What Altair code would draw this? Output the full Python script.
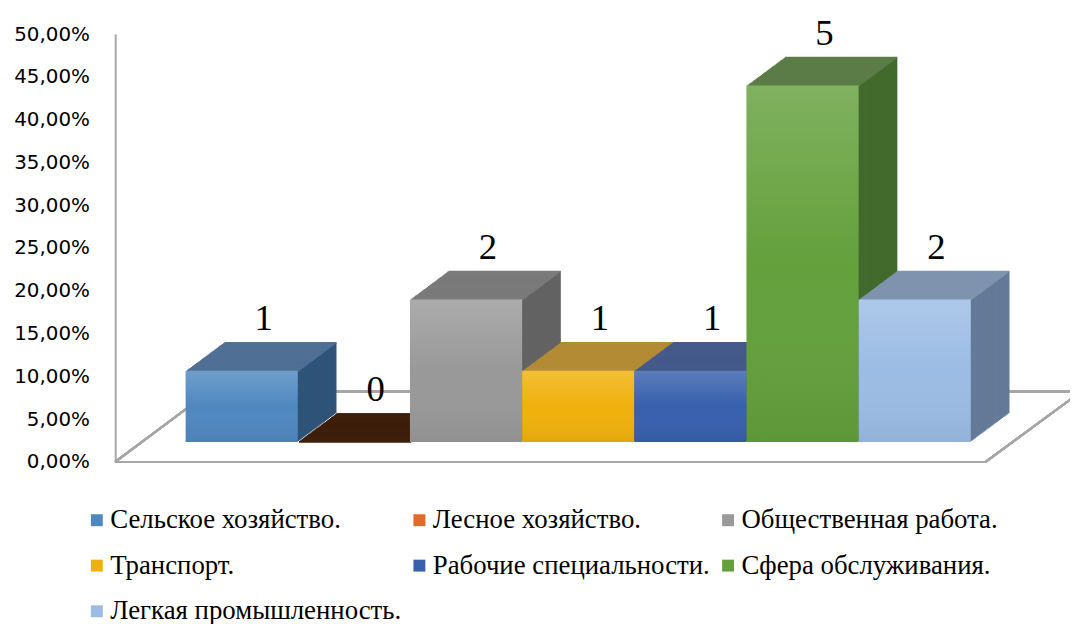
import altair as alt
import pandas as pd

# ---- data ----
categories = ["Сельское хозяйство.", "Лесное хозяйство.", "Общественная работа.",
              "Транспорт.", "Рабочие специальности.", "Сфера обслуживания.",
              "Легкая промышленность."]
counts = [1, 0, 2, 1, 1, 5, 2]
shares = [0.0833, 0.0, 0.1667, 0.0833, 0.0833, 0.4167, 0.1667]

# ---- styles ----
front_colors = ["#4f88c0", "#e2692a", "#999999", "#f0b10c", "#3860ad", "#64a03c", "#9bbce4"]
top_colors = ["#4f7094", "#3d1f0b", "#7a7a7a", "#b38b35", "#445a8a", "#5b7c47", "#7f93ae"]
side_colors = ["#2f5478", "#3d1f0b", "#636363", "#8c6a10", "#2a4275", "#426a2c", "#647a98"]

df = pd.DataFrame({"cat": categories, "count": counts, "share": shares,
                   "top": top_colors, "side": side_colors})

W, H = 933, 431
BASE = -20          # front face baseline lifted above the floor front edge
DEPTH_X, DEPTH_Y = 39, 29
N = 30
SX, SY = DEPTH_X / N, DEPTH_Y / N

xenc = alt.X("cat:N", sort=categories, axis=None,
             scale=alt.Scale(paddingInner=0, paddingOuter=0.628))
yenc = alt.Y("share:Q", scale=alt.Scale(domain=[0, 0.5]),
             axis=alt.Axis(values=[i * 0.05 for i in range(11)],
                           labelExpr="replace(format(datum.value, '.2%'), '.', ',')",
                           labelFont="DejaVu Sans", labelFontSize=20, labelColor="#000000",
                           labelPadding=26, ticks=False, grid=False,
                           domainColor="#a6a6a6", domainWidth=2, title=None))

base = alt.Chart(df)

floor_col = "#a6a6a6"
floor = [
    base.mark_rule(color=floor_col, strokeWidth=2).encode(
        x=alt.value(0), x2=alt.value(877), y=alt.value(H), y2=alt.value(H)),
    base.mark_rule(color=floor_col, strokeWidth=2).encode(
        x=alt.value(0), x2=alt.value(95), y=alt.value(H), y2=alt.value(H - 71)),
    base.mark_rule(color=floor_col, strokeWidth=2).encode(
        x=alt.value(95), x2=alt.value(980), y=alt.value(H - 71), y2=alt.value(H - 71)),
    base.mark_rule(color=floor_col, strokeWidth=2).encode(
        x=alt.value(877), x2=alt.value(980), y=alt.value(H), y2=alt.value(H - 76)),
]

layers = list(floor)
for i in range(N, 0, -1):
    ox = i * SX
    oy = BASE - i * SY
    # body of the extruded copy (side colour), starting just below its top strip
    layers.append(base.mark_bar(xOffset=ox, yOffset=oy + SY, y2Offset=oy).encode(
        x=xenc, y=yenc, y2=alt.datum(0),
        color=alt.Color("side:N", scale=None)))
    # top strip of the copy (top-face colour)
    layers.append(base.mark_bar(xOffset=ox, yOffset=oy, y2Offset=oy + SY + 0.7).encode(
        x=xenc, y=yenc, y2="share:Q",
        color=alt.Color("top:N", scale=None)))

front = base.mark_bar(yOffset=BASE, y2Offset=BASE).encode(
    x=xenc, y=yenc, y2=alt.datum(0),
    color=alt.Color("cat:N", scale=alt.Scale(domain=categories, range=front_colors),
                    legend=alt.Legend(orient="none", legendX=-32, legendY=476,
                                      direction="horizontal",
                                      columns=3, symbolType="square", symbolSize=144,
                                      symbolStrokeWidth=0, labelFont="Liberation Serif",
                                      labelFontSize=27, labelColor="#000000",
                                      labelLimit=400, labelOffset=0,
                                      rowPadding=18, columnPadding=4, title=None)))

grad = alt.LinearGradient(gradient="linear", x1=0, x2=0, y1=0, y2=1,
                          stops=[alt.GradientStop(color="rgba(255,255,255,0.18)", offset=0),
                                 alt.GradientStop(color="rgba(255,255,255,0)", offset=0.5),
                                 alt.GradientStop(color="rgba(0,0,0,0.06)", offset=1)])
shade = base.mark_bar(yOffset=BASE, y2Offset=BASE, color=grad).encode(
    x=xenc, y=yenc, y2=alt.datum(0))

labels = base.mark_text(font="Liberation Serif", fontSize=37, color="#000000",
                        baseline="alphabetic", dx=22, dy=BASE - DEPTH_Y - 12).encode(
    x=xenc, y=yenc, text="count:Q")

layers += [front, shade, labels]

chart = alt.layer(*layers).properties(
    width=W, height=H, autosize="none", background="white",
    padding={"left": 108, "top": 24, "right": 29, "bottom": 161}
).configure_view(stroke=None)

chart.save("out.html", embed_options={"renderer": "svg", "actions": False})
